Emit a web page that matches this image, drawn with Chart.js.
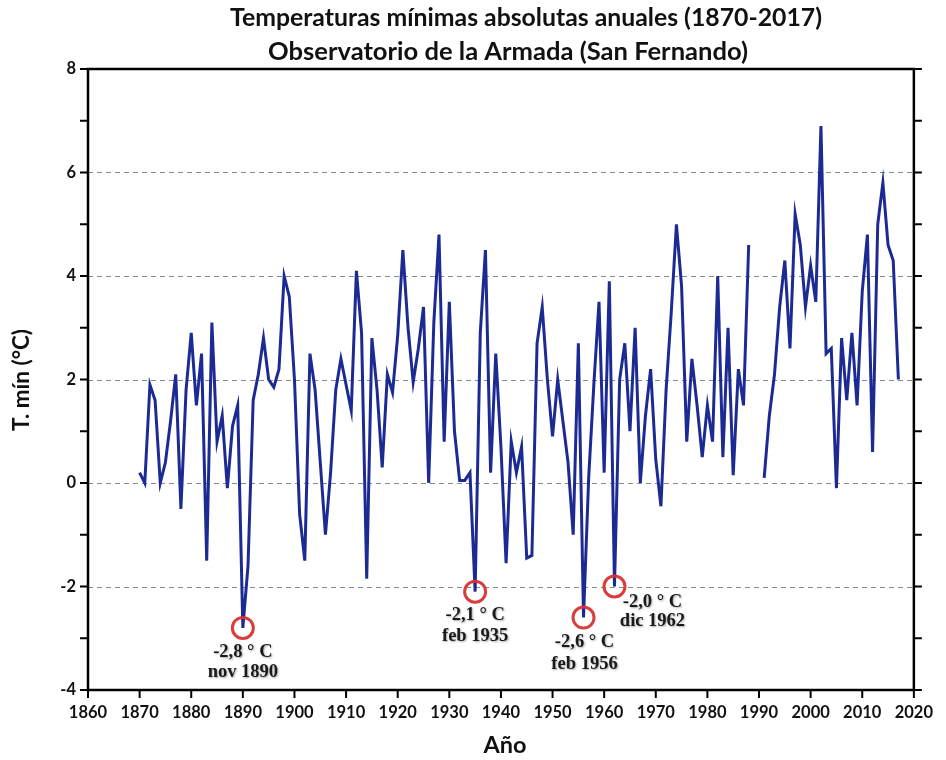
<!DOCTYPE html>
<html>
<head>
<meta charset="utf-8">
<script src="https://cdn.jsdelivr.net/npm/chart.js@4.4.1/dist/chart.umd.min.js"></script>
<style>
  html, body { margin: 0; padding: 0; background: #ffffff; }
  #wrap { width: 946px; height: 760px; position: relative; }
</style>
</head>
<body>
<div id="wrap"><canvas id="c" width="946" height="760"></canvas></div>
<script>
// Annual absolute minimum temperature (°C), San Fernando, 1870-2017
const firstYear = 1870;
const tmin = [
  0.2, 0.0, 1.9, 1.6, 0.0, 0.4, 1.2, 2.1, -0.5, 1.8,        // 1870-1879
  2.9, 1.5, 2.5, -1.5, 3.1, 0.8, 1.3, -0.1, 1.1, 1.5,       // 1880-1889
  -2.8, -1.6, 1.6, 2.1, 2.8, 2.0, 1.85, 2.2, 4.0, 3.6,      // 1890-1899
  2.0, -0.6, -1.5, 2.5, 1.8, 0.4, -1.0, 0.2, 1.8, 2.4,      // 1900-1909
  1.9, 1.4, 4.1, 2.9, -1.85, 2.8, 1.8, 0.3, 2.1, 1.75,      // 1910-1919
  2.85, 4.5, 3.0, 1.95, 2.6, 3.4, 0.0, 3.1, 4.8, 0.8,       // 1920-1929
  3.5, 1.0, 0.05, 0.05, 0.2, -2.1, 2.9, 4.5, 0.2, 2.5,      // 1930-1939
  0.7, -1.55, 0.8, 0.2, 0.7, -1.45, -1.4, 2.7, 3.4, 2.0,    // 1940-1949
  0.9, 2.0, 1.2, 0.4, -1.0, 2.7, -2.6, 0.1, 1.9, 3.5,       // 1950-1959
  0.2, 3.9, -2.0, 2.0, 2.7, 1.0, 3.0, 0.0, 1.3, 2.2,        // 1960-1969
  0.45, -0.45, 1.8, 3.3, 5.0, 3.8, 0.8, 2.4, 1.5, 0.5,      // 1970-1979
  1.5, 0.8, 4.0, 0.5, 3.0, 0.15, 2.2, 1.5, 4.6, null,       // 1980-1989
  null, 0.1, 1.3, 2.1, 3.4, 4.3, 2.6, 5.2, 4.6, 3.4,        // 1990-1999
  4.2, 3.5, 6.9, 2.5, 2.6, -0.1, 2.8, 1.6, 2.9, 1.5,        // 2000-2009
  3.7, 4.8, 0.6, 5.0, 5.8, 4.6, 4.3, 2.0                    // 2010-2017
];
const years = tmin.map((_, i) => firstYear + i);

// Axis ticks
const xTicks = [1860, 1870, 1880, 1890, 1900, 1910, 1920, 1930, 1940, 1950, 1960, 1970, 1980, 1990, 2000, 2010, 2020];
const yTicks = [-4, -2, 0, 2, 4, 6, 8];
const yGridValues = [-2, 0, 2, 4, 6];

// Highlighted record minima
const markYears  = [1890, 1935, 1956, 1962];
const markValues = [-2.8, -2.1, -2.6, -2.0];
const markLabels = ['-2,8 ° C', '-2,1 ° C', '-2,6 ° C', '-2,0 ° C'];
const markDates  = ['nov 1890', 'feb 1935', 'feb 1956', 'dic 1962'];
const markTextOffset = [[0, 24, 44], [0, 24, 45], [1, 25, 47], [38, 16, 35]];

const titleLines = [
  'Temperaturas mínimas absolutas anuales (1870-2017)',
  'Observatorio de la Armada (San Fernando)'
];
const xTitle = 'Año';
const yTitle = 'T. mín (°C)';

const LINE_COLOR = '#1c2b93';
const SANS = 'Lato, "Open Sans", "Noto Sans", sans-serif';
const SERIF = '"Liberation Serif", "DejaVu Serif", serif';

function fitFont(ctx, text, weight, family, targetWidth) {
  ctx.font = weight + ' 20px ' + family;
  const w = ctx.measureText(text).width;
  return weight + ' ' + (20 * targetWidth / w).toFixed(2) + 'px ' + family;
}

const framePlugin = {
  id: 'frame',
  beforeDatasetsDraw(chart) {
    const { ctx, chartArea: a, scales: { y } } = chart;
    ctx.save();
    ctx.strokeStyle = '#8a8a8a';
    ctx.lineWidth = 1;
    ctx.setLineDash([5, 4]);
    yGridValues.forEach(v => {
      const py = Math.round(y.getPixelForValue(v)) + 0.5;
      ctx.beginPath();
      ctx.moveTo(a.left, py);
      ctx.lineTo(a.right, py);
      ctx.stroke();
    });
    ctx.restore();
  },
  afterDraw(chart) {
    const { ctx, chartArea: a, scales: { x, y } } = chart;
    ctx.save();
    // plot frame
    ctx.strokeStyle = '#000';
    ctx.lineWidth = 2.5;
    ctx.strokeRect(a.left, a.top, a.right - a.left, a.bottom - a.top);
    // tick marks: every unit on both vertical axes, every decade on x
    ctx.lineWidth = 2;
    for (let v = y.min; v <= y.max; v++) {
      const py = y.getPixelForValue(v);
      ctx.beginPath();
      ctx.moveTo(a.left - 8, py); ctx.lineTo(a.left, py);
      ctx.moveTo(a.right, py); ctx.lineTo(a.right + 8, py);
      ctx.stroke();
    }
    xTicks.forEach(v => {
      const px = x.getPixelForValue(v);
      ctx.beginPath();
      ctx.moveTo(px, a.bottom); ctx.lineTo(px, a.bottom + 8);
      ctx.stroke();
    });

    // record minima: circles and labels
    markYears.forEach((yr, i) => {
      const px = x.getPixelForValue(yr);
      const py = y.getPixelForValue(markValues[i]);
      ctx.strokeStyle = 'rgba(214, 52, 52, 0.95)';
      ctx.lineWidth = 3;
      ctx.beginPath();
      ctx.arc(px, py, 10.5, 0, Math.PI * 2);
      ctx.stroke();
      const [dx, dy1, dy2] = markTextOffset[i];
      ctx.font = 'bold 18.5px ' + SERIF;
      ctx.fillStyle = '#1a1a1a';
      ctx.textAlign = 'center';
      ctx.textBaseline = 'middle';
      ctx.shadowColor = 'rgba(0,0,0,0.35)';
      ctx.shadowBlur = 2;
      ctx.shadowOffsetX = 1;
      ctx.shadowOffsetY = 1;
      ctx.fillText(markLabels[i], px + dx, py + dy1);
      ctx.fillText(markDates[i], px + dx, py + dy2);
      ctx.shadowColor = 'transparent';
      ctx.shadowBlur = 0;
      ctx.shadowOffsetX = 0;
      ctx.shadowOffsetY = 0;
    });

    // titles
    ctx.fillStyle = '#111';
    ctx.textAlign = 'center';
    ctx.textBaseline = 'middle';
    ctx.font = fitFont(ctx, titleLines[0], 'bold', SANS, 592);
    ctx.fillText(titleLines[0], 526, 18);
    ctx.font = fitFont(ctx, titleLines[1], 'bold', SANS, 480);
    ctx.fillText(titleLines[1], 508, 52);
    ctx.font = fitFont(ctx, xTitle, 'bold', SANS, 43);
    ctx.fillText(xTitle, 505, 745);
    ctx.save();
    ctx.translate(22, 380);
    ctx.rotate(-Math.PI / 2);
    ctx.font = fitFont(ctx, yTitle, 'bold', SANS, 102);
    ctx.fillText(yTitle, 0, 0);
    ctx.restore();
    ctx.restore();
  }
};

new Chart(document.getElementById('c'), {
  type: 'line',
  data: {
    datasets: [{
      data: years.map((yr, i) => ({ x: yr, y: tmin[i] })),
      borderColor: LINE_COLOR,
      borderWidth: 3,
      pointRadius: 0,
      tension: 0,
      spanGaps: false,
      fill: false
    }]
  },
  options: {
    responsive: false,
    animation: false,
    devicePixelRatio: 1,
    layout: { padding: { top: 69, right: 26, left: 0, bottom: 0 } },
    plugins: { legend: { display: false }, tooltip: { enabled: false }, title: { display: false } },
    scales: {
      x: {
        type: 'linear',
        min: 1860,
        max: 2020,
        afterBuildTicks: s => { s.ticks = xTicks.map(v => ({ value: v })); },
        afterFit: s => { s.height = 70; },
        grid: { display: false, drawTicks: false },
        border: { display: false },
        ticks: {
          autoSkip: false,
          maxRotation: 0,
          padding: 13,
          color: '#111',
          font: { family: SANS, size: 16.5, weight: 'bold' },
          callback: v => String(v)
        }
      },
      y: {
        type: 'linear',
        min: -4,
        max: 8,
        afterBuildTicks: s => { s.ticks = yTicks.map(v => ({ value: v })); },
        afterFit: s => { s.width = 88; },
        grid: { display: false, drawTicks: false },
        border: { display: false },
        ticks: {
          padding: 12,
          color: '#111',
          font: { family: SANS, size: 16.5, weight: 'bold' },
          callback: v => String(v)
        }
      }
    }
  },
  plugins: [framePlugin]
});
</script>
</body>
</html>
